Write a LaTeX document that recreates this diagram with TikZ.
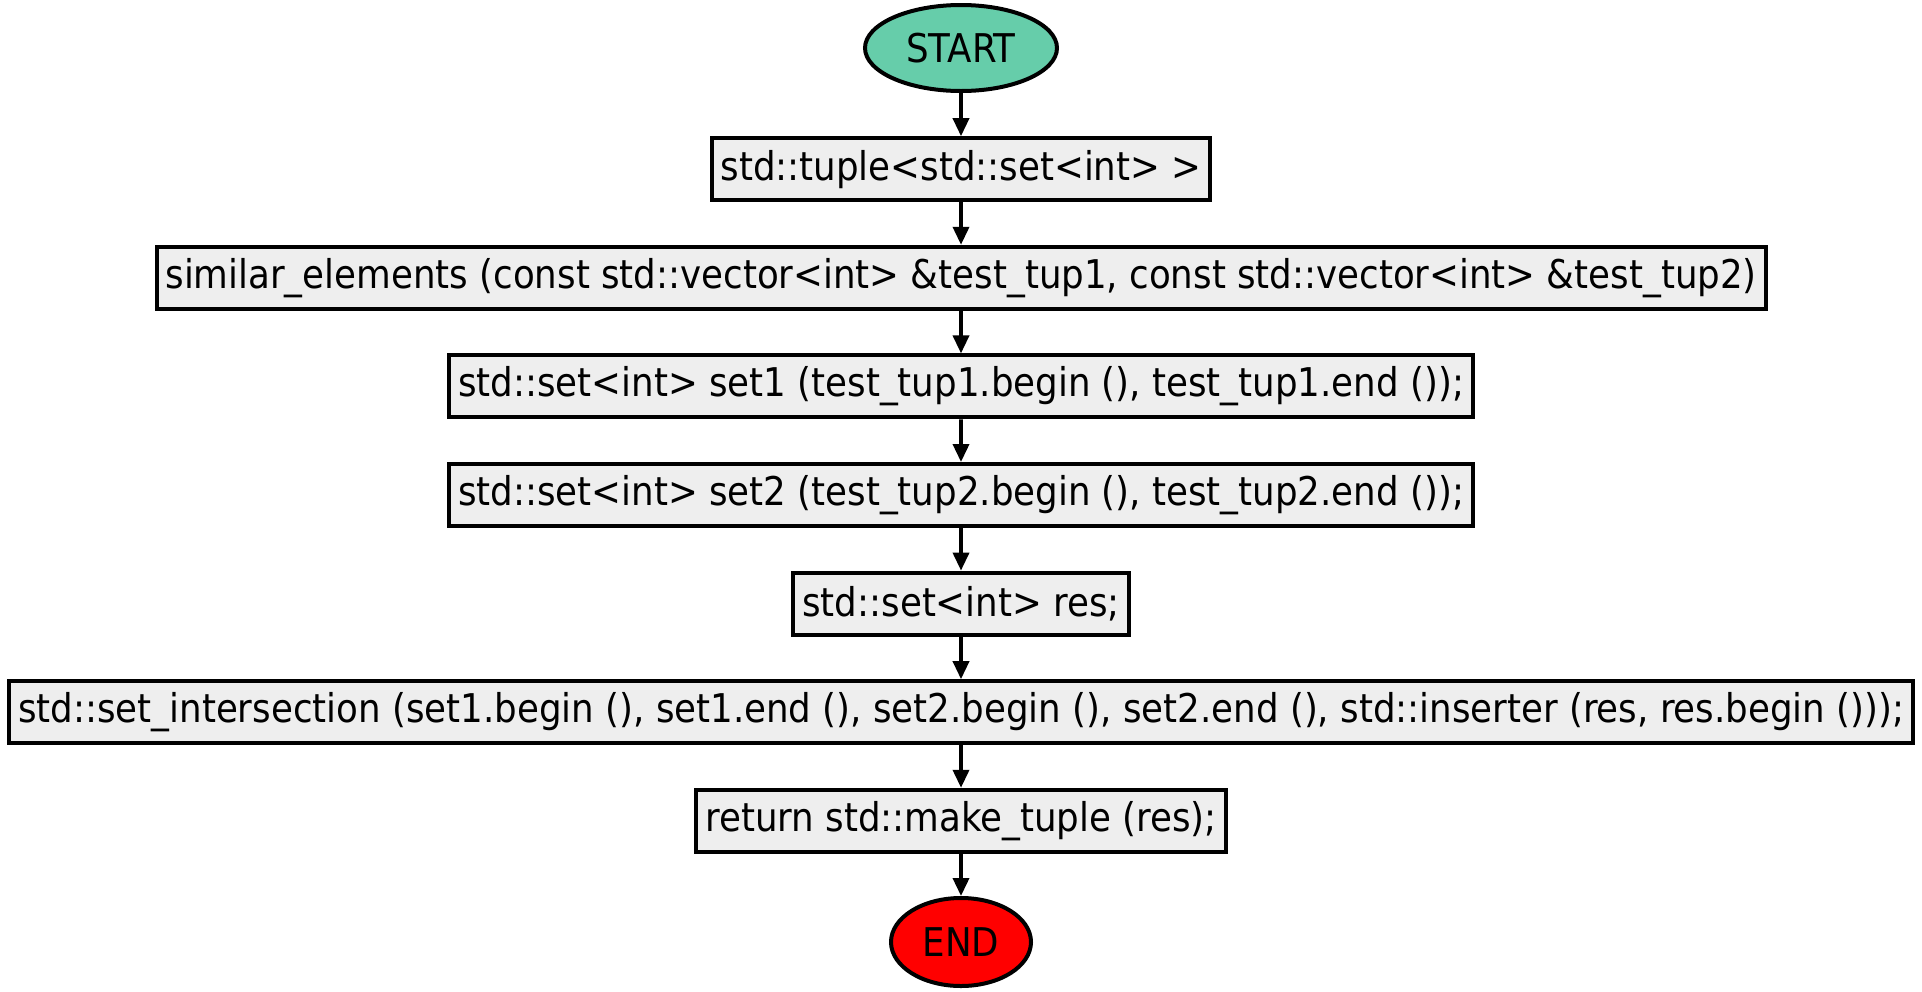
\documentclass[tikz,border=0pt]{standalone}
\usepackage{fontspec}
\setmainfont{DejaVu Sans Condensed}
\usepackage{tikz}
\usetikzlibrary{arrows.meta,shapes.geometric}
\definecolor{startgreen}{HTML}{66CDAA}
\definecolor{boxgray}{HTML}{EEEEEE}
\tikzset{
  flownode/.style = {align=center, inner sep=0pt, text centered,
    font=\fontsize{19.8}{23}\selectfont, line width=2pt},
  flow_s/.style = {flownode, ellipse, draw=black, fill=startgreen,
    minimum width=96pt, minimum height=43pt},% flowchart, start
  flow_e/.style = {flownode, ellipse, draw=black, fill=red,
    minimum width=70pt, minimum height=44pt},% flowchart, end
  flow_b/.style = {flownode, rectangle, draw=black, fill=boxgray,
    inner xsep=4.5pt, minimum height=31pt}% flowchart, statement
}

\begin{document}
\begin{tikzpicture}[->,>={Triangle[length=9pt,width=8pt]},line width=1.8pt,
    level/.style={level distance=54.3pt},
    level 1/.style={level distance=60.6pt},
    level 8/.style={level distance=60.6pt}]
    \useasboundingbox (0,0) rectangle (961pt,-495.5pt);
    \node [flow_s] (start) at (480.5pt,-24pt) {START}
      child{ node [flow_b] (tup) {std::tuple<std::set<int> >}
        child{ node [flow_b] (sim) {similar\_elements (const std::vector<int> \&test\_tup1, const std::vector<int> \&test\_tup2)}
          child{ node [flow_b] (set1) {std::set<int> set1 (test\_tup1.begin (), test\_tup1.end ());}
            child{ node [flow_b] (set2) {std::set<int> set2 (test\_tup2.begin (), test\_tup2.end ());}
              child{ node [flow_b] (res) {std::set<int> res;}
                child{ node [flow_b] (inter) {std::set\_intersection (set1.begin (), set1.end (), set2.begin (), set2.end (), std::inserter (res, res.begin ()));}
                  child{ node [flow_b] (ret) {return std::make\_tuple (res);}
                    child{ node [flow_e] (end) {END}}
                  }
                }
              }
            }
          }
        }
      };
\end{tikzpicture}
\end{document}
